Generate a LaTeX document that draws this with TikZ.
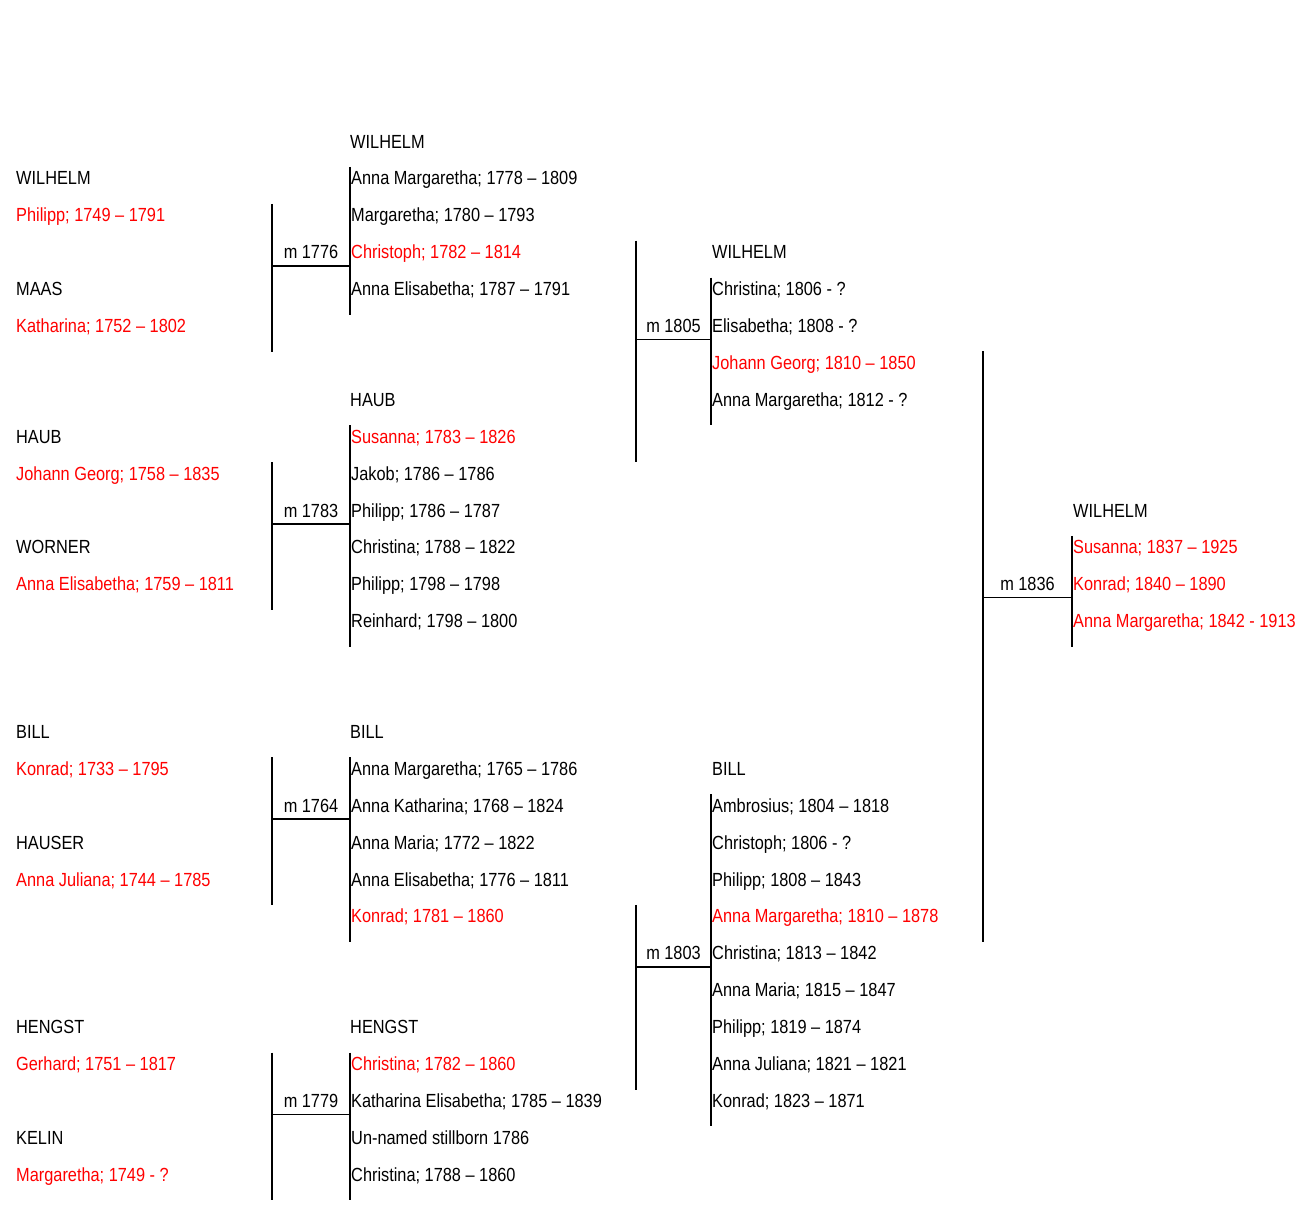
\documentclass[tikz,border=0pt]{standalone}
\usepackage{fontspec}
\setmainfont{Liberation Sans}[FakeStretch=0.86]
\definecolor{kinred}{RGB}{255,0,0}
\newcommand\famgroup[9]{%
  \coordinate (#1-lt) at (#2,{by(#4)+18});
  \coordinate (#1-lb) at (#2,{by(#5)-19});
  \coordinate (#1-rt) at (#3,{by(#6)+18});
  \coordinate (#1-rb) at (#3,{by(#7)-19});
  \coordinate (#1-hl) at (#2,{by(#8)-7});
  \coordinate (#1-hr) at (#3,{by(#8)-7});
  \draw[bar] (#1-lt) -- (#1-lb);
  \draw[bar] (#1-rt) -- (#1-rb);
  \draw[bar] (#1-hl) -- (#1-hr);
  \node[mlabel] (#1-m) at ({(#2+#3)/2},{by(#8)}) {#9};
}
\begin{document}
\begin{tikzpicture}[x=1pt,y=1pt,
  declare function={by(\k)=-(148+36.9*\k);},
  person/.style={anchor=base west,inner sep=0pt,text=black,font=\fontsize{19}{22}\selectfont},
  anc/.style={person,text=kinred},
  mlabel/.style={anchor=base,inner sep=0pt,font=\fontsize{19}{22}\selectfont},
  bar/.style={line width=1.7pt,line cap=butt},
  thinbar/.style={line width=0.9pt}]
\useasboundingbox (0,0) rectangle (1310,-1216);
% ---- column A: grandparents
\node[person] (a1) at (16,{by(1)}) {WILHELM};
\node[anc] (a2) at (16,{by(2)}) {Philipp; 1749 – 1791};
\node[person] (a4) at (16,{by(4)}) {MAAS};
\node[anc] (a5) at (16,{by(5)}) {Katharina; 1752 – 1802};
\node[person] (a8) at (16,{by(8)}) {HAUB};
\node[anc] (a9) at (16,{by(9)}) {Johann Georg; 1758 – 1835};
\node[person] (a11) at (16,{by(11)}) {WORNER};
\node[anc] (a12) at (16,{by(12)}) {Anna Elisabetha; 1759 – 1811};
\node[person] (a16) at (16,{by(16)}) {BILL};
\node[anc] (a17) at (16,{by(17)}) {Konrad; 1733 – 1795};
\node[person] (a19) at (16,{by(19)}) {HAUSER};
\node[anc] (a20) at (16,{by(20)}) {Anna Juliana; 1744 – 1785};
\node[person] (a24) at (16,{by(24)}) {HENGST};
\node[anc] (a25) at (16,{by(25)}) {Gerhard; 1751 – 1817};
\node[person] (a27) at (16,{by(27)}) {KELIN};
\node[anc] (a28) at (16,{by(28)}) {Margaretha; 1749 - ?};
% ---- column B
\node[person] (b0) at (350,{by(0)}) {WILHELM};
\node[person] (b1) at (351,{by(1)}) {Anna Margaretha; 1778 – 1809};
\node[person] (b2) at (351,{by(2)}) {Margaretha; 1780 – 1793};
\node[anc] (b3) at (351,{by(3)}) {Christoph; 1782 – 1814};
\node[person] (b4) at (351,{by(4)}) {Anna Elisabetha; 1787 – 1791};
\node[person] (b7) at (350,{by(7)}) {HAUB};
\node[anc] (b8) at (351,{by(8)}) {Susanna; 1783 – 1826};
\node[person] (b9) at (351,{by(9)}) {Jakob; 1786 – 1786};
\node[person] (b10) at (351,{by(10)}) {Philipp; 1786 – 1787};
\node[person] (b11) at (351,{by(11)}) {Christina; 1788 – 1822};
\node[person] (b12) at (351,{by(12)}) {Philipp; 1798 – 1798};
\node[person] (b13) at (351,{by(13)}) {Reinhard; 1798 – 1800};
\node[person] (b16) at (350,{by(16)}) {BILL};
\node[person] (b17) at (351,{by(17)}) {Anna Margaretha; 1765 – 1786};
\node[person] (b18) at (351,{by(18)}) {Anna Katharina; 1768 – 1824};
\node[person] (b19) at (351,{by(19)}) {Anna Maria; 1772 – 1822};
\node[person] (b20) at (351,{by(20)}) {Anna Elisabetha; 1776 – 1811};
\node[anc] (b21) at (351,{by(21)}) {Konrad; 1781 – 1860};
\node[person] (b24) at (350,{by(24)}) {HENGST};
\node[anc] (b25) at (351,{by(25)}) {Christina; 1782 – 1860};
\node[person] (b26) at (351,{by(26)}) {Katharina Elisabetha; 1785 – 1839};
\node[person] (b27) at (351,{by(27)}) {Un-named stillborn 1786};
\node[person] (b28) at (351,{by(28)}) {Christina; 1788 – 1860};
% ---- column C
\node[person] (c3) at (712,{by(3)}) {WILHELM};
\node[person] (c4) at (712,{by(4)}) {Christina; 1806 - ?};
\node[person] (c5) at (712,{by(5)}) {Elisabetha; 1808 - ?};
\node[anc] (c6) at (712,{by(6)}) {Johann Georg; 1810 – 1850};
\node[person] (c7) at (712,{by(7)}) {Anna Margaretha; 1812 - ?};
\node[person] (c17) at (712,{by(17)}) {BILL};
\node[person] (c18) at (712,{by(18)}) {Ambrosius; 1804 – 1818};
\node[person] (c19) at (712,{by(19)}) {Christoph; 1806 - ?};
\node[person] (c20) at (712,{by(20)}) {Philipp; 1808 – 1843};
\node[anc] (c21) at (712,{by(21)}) {Anna Margaretha; 1810 – 1878};
\node[person] (c22) at (712,{by(22)}) {Christina; 1813 – 1842};
\node[person] (c23) at (712,{by(23)}) {Anna Maria; 1815 – 1847};
\node[person] (c24) at (712,{by(24)}) {Philipp; 1819 – 1874};
\node[person] (c25) at (712,{by(25)}) {Anna Juliana; 1821 – 1821};
\node[person] (c26) at (712,{by(26)}) {Konrad; 1823 – 1871};
% ---- column D
\node[person] (d10) at (1073,{by(10)}) {WILHELM};
\node[anc] (d11) at (1073,{by(11)}) {Susanna; 1837 – 1925};
\node[anc] (d12) at (1073,{by(12)}) {Konrad; 1840 – 1890};
\node[anc] (d13) at (1073,{by(13)}) {Anna Margaretha; 1842 - 1913};
% ---- marriage brackets
\famgroup{g1}{272}{350}{2}{5}{1}{4}{3}{m 1776}
\famgroup{g2}{272}{350}{9}{12}{8}{13}{10}{m 1783}
\famgroup{g3}{636}{711}{3}{8}{4}{7}{5}{m 1805}
\famgroup{g4}{272}{350}{17}{20}{17}{21}{18}{m 1764}
\famgroup{g5}{272}{350}{25}{28}{25}{28}{26}{m 1779}
\famgroup{g6}{636}{711}{21}{25}{18}{26}{22}{m 1803}
% group 7 with thin horizontal
\coordinate (g7-lt) at (983,{by(6)+18});
\coordinate (g7-lb) at (983,{by(21)-19});
\coordinate (g7-rt) at (1072,{by(11)+18});
\coordinate (g7-rb) at (1072,{by(13)-19});
\coordinate (g7-hl) at (983,{by(12)-7});
\coordinate (g7-hr) at (1072,{by(12)-7});
\draw[bar] (g7-lt) -- (g7-lb);
\draw[bar] (g7-rt) -- (g7-rb);
\draw[thinbar] (g7-hl) -- (g7-hr);
\node[mlabel] (g7-m) at ({(983+1072)/2},{by(12)}) {m 1836};
\end{tikzpicture}
\end{document}
